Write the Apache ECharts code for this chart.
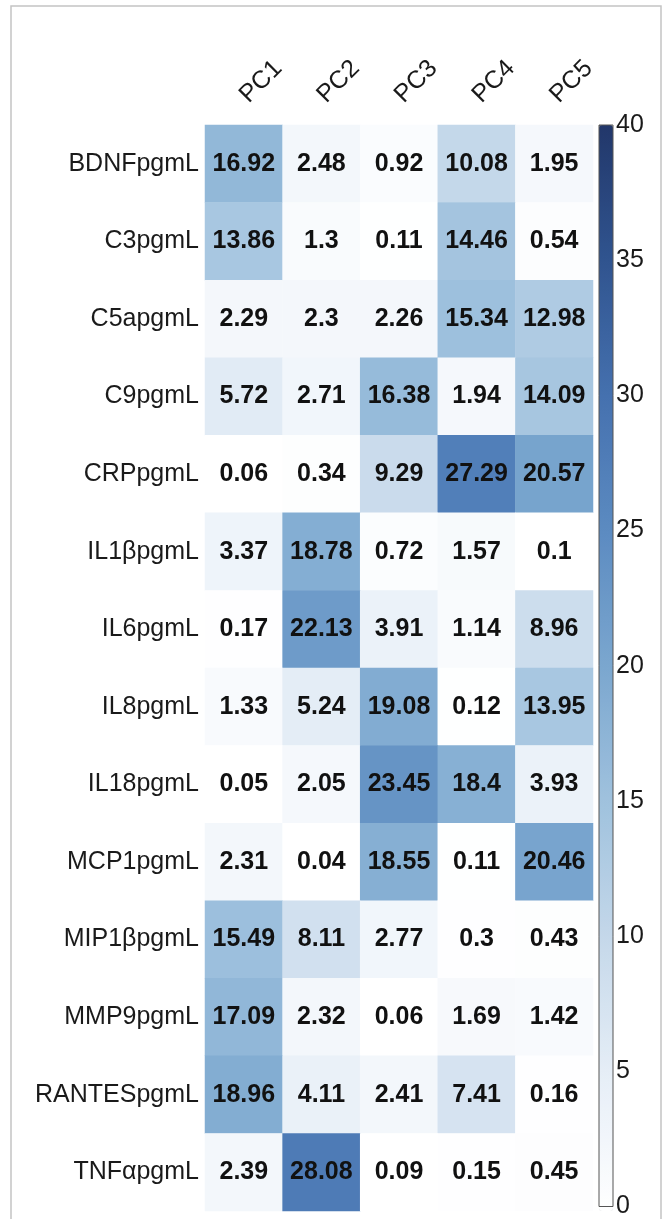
<!DOCTYPE html>
<html>
<head>
<meta charset="utf-8">
<script src="https://cdn.jsdelivr.net/npm/echarts@6/dist/echarts.min.js"></script>
<style>
html,body{margin:0;padding:0;background:#fff;}
#c{width:664px;height:1219px;}
</style>
</head>
<body>
<div id="c"></div>
<script>
const components = ['PC1','PC2','PC3','PC4','PC5'];
const markers = ['BDNFpgmL','C3pgmL','C5apgmL','C9pgmL','CRPpgmL','IL1βpgmL','IL6pgmL','IL8pgmL','IL18pgmL','MCP1pgmL','MIP1βpgmL','MMP9pgmL','RANTESpgmL','TNFαpgmL'];
const BDNF   = [16.92, 2.48, 0.92, 10.08, 1.95];
const C3     = [13.86, 1.3, 0.11, 14.46, 0.54];
const C5a    = [2.29, 2.3, 2.26, 15.34, 12.98];
const C9     = [5.72, 2.71, 16.38, 1.94, 14.09];
const CRP    = [0.06, 0.34, 9.29, 27.29, 20.57];
const IL1b   = [3.37, 18.78, 0.72, 1.57, 0.1];
const IL6    = [0.17, 22.13, 3.91, 1.14, 8.96];
const IL8    = [1.33, 5.24, 19.08, 0.12, 13.95];
const IL18   = [0.05, 2.05, 23.45, 18.4, 3.93];
const MCP1   = [2.31, 0.04, 18.55, 0.11, 20.46];
const MIP1b  = [15.49, 8.11, 2.77, 0.3, 0.43];
const MMP9   = [17.09, 2.32, 0.06, 1.69, 1.42];
const RANTES = [18.96, 4.11, 2.41, 7.41, 0.16];
const TNFa   = [2.39, 28.08, 0.09, 0.15, 0.45];
const rows = [BDNF, C3, C5a, C9, CRP, IL1b, IL6, IL8, IL18, MCP1, MIP1b, MMP9, RANTES, TNFa];
const colorbarTicks = [0, 5, 10, 15, 20, 25, 30, 35, 40];
const colorRamp = ['#ffffff','#e6eef7','#c5d8ea','#a0c2de','#7ba7cf','#5c8bc1','#4571af','#30548f','#22376a'];

const data = [];
rows.forEach((r, yi) => r.forEach((v, xi) => data.push([xi, yi, v])));

const FONT = '"Liberation Sans", Arial, sans-serif';
const chart = echarts.init(document.getElementById('c'), null, {renderer: 'canvas'});
chart.setOption({
  animation: false,
  backgroundColor: '#ffffff',
  textStyle: {fontFamily: FONT},
  graphic: [{
    type: 'rect', z: -10, silent: true,
    shape: {x: 11, y: 6, width: 650, height: 1300},
    style: {fill: 'none', stroke: '#c4c4c4', lineWidth: 1.5}
  }],
  grid: [
    {left: 205, top: 125, width: 388, height: 1086},
    {left: 599, top: 125, width: 14, height: 1086, show: true, z: 10,
     borderColor: '#555', borderWidth: 1, backgroundColor: 'transparent'}
  ],
  xAxis: [
    {type: 'category', gridIndex: 0, data: components, position: 'top',
     axisLine: {show: false}, axisTick: {show: false}, splitLine: {show: false},
     axisLabel: {rotate: -45, margin: 26, fontSize: 25, color: '#1a1a1a', fontFamily: FONT}},
    {type: 'value', gridIndex: 1, show: false, min: 0, max: 1}
  ],
  yAxis: [
    {type: 'category', gridIndex: 0, data: markers, inverse: true,
     axisLine: {show: false}, axisTick: {show: false}, splitLine: {show: false},
     axisLabel: {margin: 6, fontSize: 25, color: '#1a1a1a', fontFamily: FONT}},
    {type: 'value', gridIndex: 1, position: 'right', min: 0, max: 40, interval: 5,
     axisLine: {show: false}, splitLine: {show: false},
     axisTick: {show: true, length: 3, lineStyle: {color: '#555'}},
     axisLabel: {margin: 3, fontSize: 25, color: '#1a1a1a', fontFamily: FONT,
       formatter: v => colorbarTicks.includes(v) ? String(v) : ''}}
  ],
  visualMap: {
    type: 'continuous', min: 0, max: 40, seriesIndex: 0, dimension: 2,
    orient: 'vertical', left: 599, top: 125, itemWidth: 14, itemHeight: 1086,
    padding: 0, calculable: false, text: null, showLabel: false, hoverLink: false,
    inRange: {color: colorRamp}
  },
  series: [
    {type: 'heatmap', xAxisIndex: 0, yAxisIndex: 0, data: data,
     itemStyle: {borderWidth: 0},
     label: {show: true, fontSize: 25, fontWeight: 'bold', color: '#111', fontFamily: FONT,
       formatter: p => String(p.value[2])}},
    {type: 'line', xAxisIndex: 1, yAxisIndex: 1, data: [], silent: true}
  ]
});
</script>
</body>
</html>
